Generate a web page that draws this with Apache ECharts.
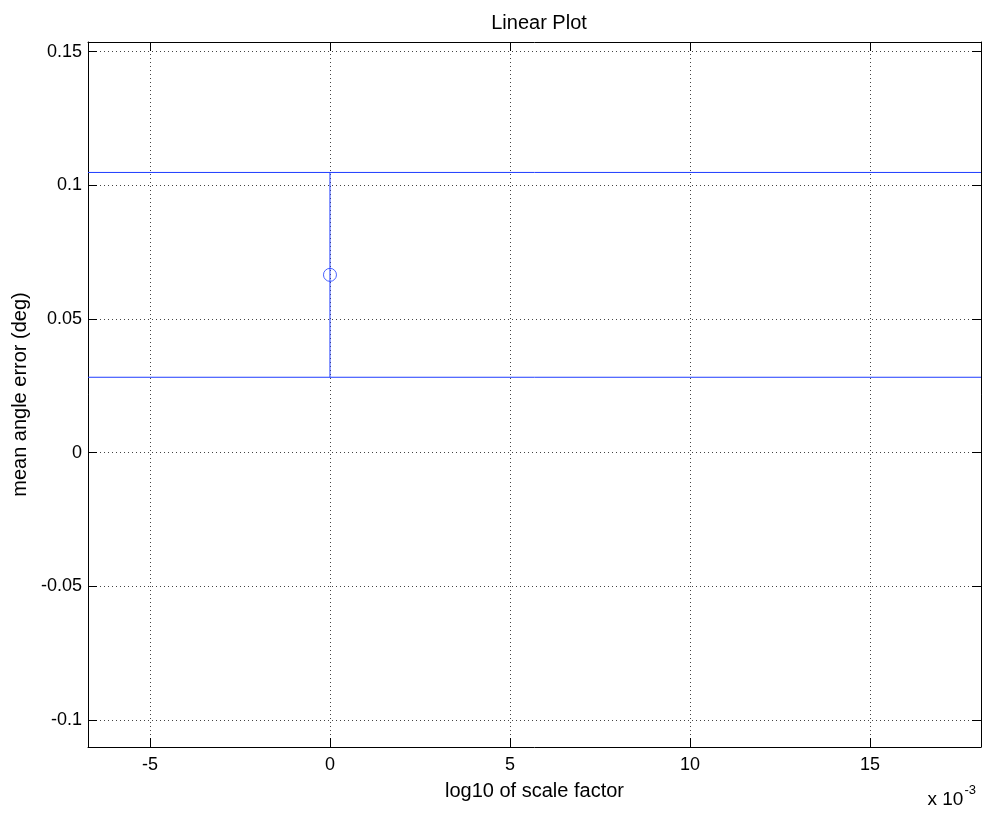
<!DOCTYPE html>
<html>
<head>
<meta charset="utf-8">
<script src="https://cdn.jsdelivr.net/npm/echarts@6/dist/echarts.min.js"></script>
<style>
    html, body { margin: 0; padding: 0; background: #fff; }
    #chart { width: 987px; height: 814px; }
</style>
</head>
<body>
<div id="chart"></div>
<script>
    // errorbar data (x in log10 units, y in degrees)
    var xValues = [0];
    var meanValues = [0.0665];
    var errValues = [0.0383];
    // axis limits
    var xLimits = [-0.00672, 0.01808];
    var yLimits = [-0.1101, 0.1536];
    var tickStep = { x: 0.005, y: 0.05 };

    var blue = '#1e3cff';
    var font = "'Liberation Sans', Arial, Helvetica, sans-serif";

    var upper = meanValues.map(function (m, i) { return m + errValues[i]; });
    var lower = meanValues.map(function (m, i) { return m - errValues[i]; });

    var vertData = [];
    for (var i = 0; i < xValues.length; i++) {
        vertData.push([xValues[i], lower[i]], [xValues[i], upper[i]], null);
    }
    // the tees span the whole axis for a single point
    var teeTop = [[xLimits[0], upper[0]], [xLimits[1], upper[0]]];
    var teeBottom = [[xLimits[0], lower[0]], [xLimits[1], lower[0]]];

    var gridLine = { show: true, lineStyle: { color: '#444', type: [1, 3], width: 1 } };

    function xAxisOf(pos, labels) {
        return {
            type: 'value', position: pos,
            min: xLimits[0], max: xLimits[1],
            minInterval: tickStep.x, maxInterval: tickStep.x,
            axisLine: { show: true, onZero: false, lineStyle: { color: '#000', width: 1 } },
            axisTick: { show: true, inside: true, length: 9, lineStyle: { color: '#000' } },
            axisLabel: {
                show: labels, showMinLabel: false, showMaxLabel: false,
                color: '#000', fontSize: 18, fontFamily: font, margin: 9,
                formatter: function (v) { return String(Math.round(v * 1000)); }
            },
            splitLine: labels ? gridLine : { show: false }
        };
    }

    function yAxisOf(pos, labels) {
        return {
            type: 'value', position: pos,
            min: yLimits[0], max: yLimits[1],
            minInterval: tickStep.y, maxInterval: tickStep.y,
            axisLine: { show: true, onZero: false, lineStyle: { color: '#000', width: 1 } },
            axisTick: { show: true, inside: true, length: 9, lineStyle: { color: '#000' } },
            axisLabel: {
                show: labels, showMinLabel: false, showMaxLabel: false,
                color: '#000', fontSize: 18, fontFamily: font, margin: 6,
                formatter: function (v) {
                    var r = Math.round(v * 100) / 100;
                    return r === 0 ? '0' : String(r);
                }
            },
            splitLine: labels ? gridLine : { show: false }
        };
    }

    var chart = echarts.init(document.getElementById('chart'));
    var xa = xAxisOf('bottom', true);
    xa.name = 'log10 of scale factor';
    xa.nameLocation = 'middle';
    xa.nameGap = 34;
    xa.nameTextStyle = { color: '#000', fontSize: 20, fontFamily: font };
    var ya = yAxisOf('left', true);
    ya.name = 'mean angle error (deg)';
    ya.nameLocation = 'middle';
    ya.nameGap = 57;
    ya.nameTextStyle = { color: '#000', fontSize: 20, fontFamily: font };

    var option = {
        animation: false,
        backgroundColor: '#fff',
        title: [{
            text: 'Linear Plot', left: 534, top: 8, textAlign: 'center',
            textStyle: { color: '#000', fontSize: 20, fontWeight: 'normal', fontFamily: font }
        }, {
            text: '{a|x 10}{b|-3}', right: 6, bottom: 0,
            textStyle: {
                rich: {
                    a: { color: '#000', fontSize: 19, fontWeight: 'normal', fontFamily: font, verticalAlign: 'bottom' },
                    b: { color: '#000', fontSize: 13, fontWeight: 'normal', fontFamily: font, verticalAlign: 'top', padding: [0, 0, 12, 1] }
                }
            }
        }],
        grid: { left: 88, right: 6, top: 42, bottom: 67, containLabel: false },
        xAxis: [xa, xAxisOf('top', false)],
        yAxis: [ya, yAxisOf('right', false)],
        series: [
            {
                type: 'line', data: vertData, connectNulls: false, symbol: 'none',
                lineStyle: { color: blue, width: 1 }, silent: true
            },
            {
                type: 'line', data: teeTop, symbol: 'none',
                lineStyle: { color: blue, width: 1 }, silent: true
            },
            {
                type: 'line', data: teeBottom, symbol: 'none',
                lineStyle: { color: blue, width: 1 }, silent: true
            },
            {
                type: 'scatter',
                data: xValues.map(function (x, i) { return [x, meanValues[i]]; }),
                symbol: 'circle', symbolSize: 13,
                itemStyle: { color: 'rgba(0,0,0,0)', borderColor: blue, borderWidth: 1 }
            }
        ]
    };
    chart.setOption(option);
</script>
</body>
</html>
